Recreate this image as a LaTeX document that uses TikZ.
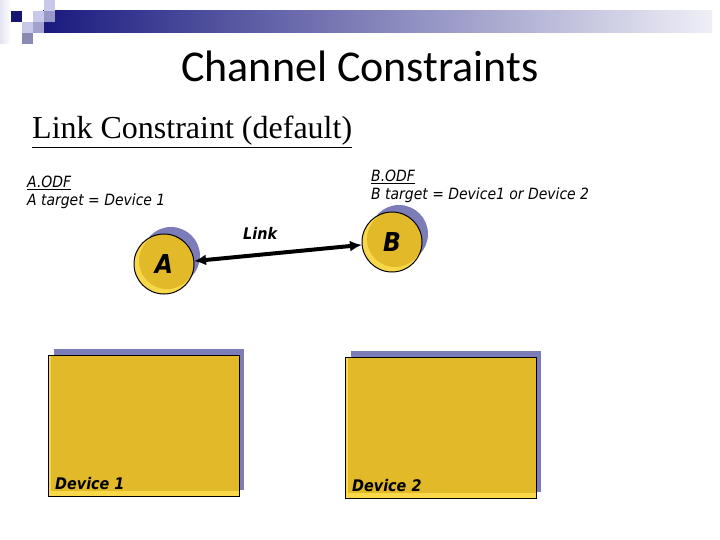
\documentclass[tikz,border=0pt]{standalone}
\usepackage{fontspec}
\setmainfont{Liberation Serif}
\newfontfamily\titlefont{Carlito}
\newfontfamily\tfont{DejaVu Sans Condensed}
\usetikzlibrary{arrows.meta}
\definecolor{gold}{HTML}{E2B928}
\definecolor{lightgold}{HTML}{F8D848}
\definecolor{shadowblue}{HTML}{7C7CB8}
\definecolor{navy}{HTML}{1A1A80}
\definecolor{paleblue}{HTML}{E4E4F2}
\definecolor{lav}{HTML}{C8C8E8}
\definecolor{medblue}{HTML}{9898C8}
\begin{document}
\begin{tikzpicture}[x=1pt,y=-1pt,
  lbl/.style={inner sep=0pt,anchor=base west},
  small/.style={font=\tfont\itshape\fontsize{15.5}{17}\selectfont},
  boldlbl/.style={font=\tfont\bfseries\itshape\fontsize{16}{18}\selectfont}]
\useasboundingbox (0,0) rectangle (720,540);
\fill[white] (0,0) rectangle (720,540);
% header decoration
\shade[left color=navy,right color=paleblue!60!white] (43,11) rectangle (712,33);
\shade[left color=paleblue,right color=white] (0,0) rectangle (11,44);
\fill[navy!90!black] (11,11) rectangle (22,22);
\fill[lav] (33,11) rectangle (44,22);
\fill[lav] (44,0) rectangle (55,11);
\fill[medblue] (44,11) rectangle (55,22);
\fill[lav] (22,22) rectangle (33,33);
\fill[medblue!90!white] (33,22) rectangle (44,33);
\fill[medblue!90!black] (22,33) rectangle (33,44);
% titles
\node[inner sep=0pt,anchor=base,font=\titlefont\fontsize{44}{48}\selectfont] (title) at (360,82) {Channel Constraints};
\node[lbl,font=\fontsize{32}{36}\selectfont] (sub) at (32,139) {\underline{Link Constraint (default)}};
% ODF texts
\node[lbl,small] (aodf) at (27,188) {\underline{A.ODF}};
\node[lbl,small] (atgt) at (27,206) {A target = Device 1};
\node[lbl,small] (bodf) at (371,182) {\underline{B.ODF}};
\node[lbl,small] (btgt) at (371,200) {B target = Device1 or Device 2};
% circles
\foreach \n/\cx/\cy in {A/164/264,B/392/242}{
  \fill[shadowblue] (\cx+7,\cy-8) circle (29);
  \begin{scope}
    \clip (\cx,\cy) circle (30);
    \fill[lightgold] (\cx,\cy) circle (30);
    \fill[gold] (\cx+3,\cy-3) circle (28);
  \end{scope}
  \draw[line width=1pt] (\cx,\cy) circle (30);
  \node[circle,minimum size=60pt,inner sep=0pt,font=\tfont\bfseries\itshape\fontsize{26}{28}\selectfont] (\n) at (\cx,\cy) {\n};
}
% link
\draw[line width=4pt,{Latex[length=12pt,width=11pt]}-{Latex[length=12pt,width=11pt]}] (A) -- (B);
\node[lbl,boldlbl] (link) at (243,240) {Link};
% devices
\foreach \n/\x/\y/\t in {d1/48/355/Device 1,d2/345/357/Device 2}{
  \fill[shadowblue] (\x+6,\y-6) rectangle (\x+196,\y+135);
  \fill[lightgold] (\x,\y) rectangle (\x+191,\y+141);
  \fill[gold] (\x+3,\y) rectangle (\x+191,\y+136);
  \draw[line width=1pt] (\x,\y) rectangle (\x+191,\y+141);
  \node[lbl,boldlbl] (\n) at (\x+7,\y+134) {\t};
}
\end{tikzpicture}
\end{document}
